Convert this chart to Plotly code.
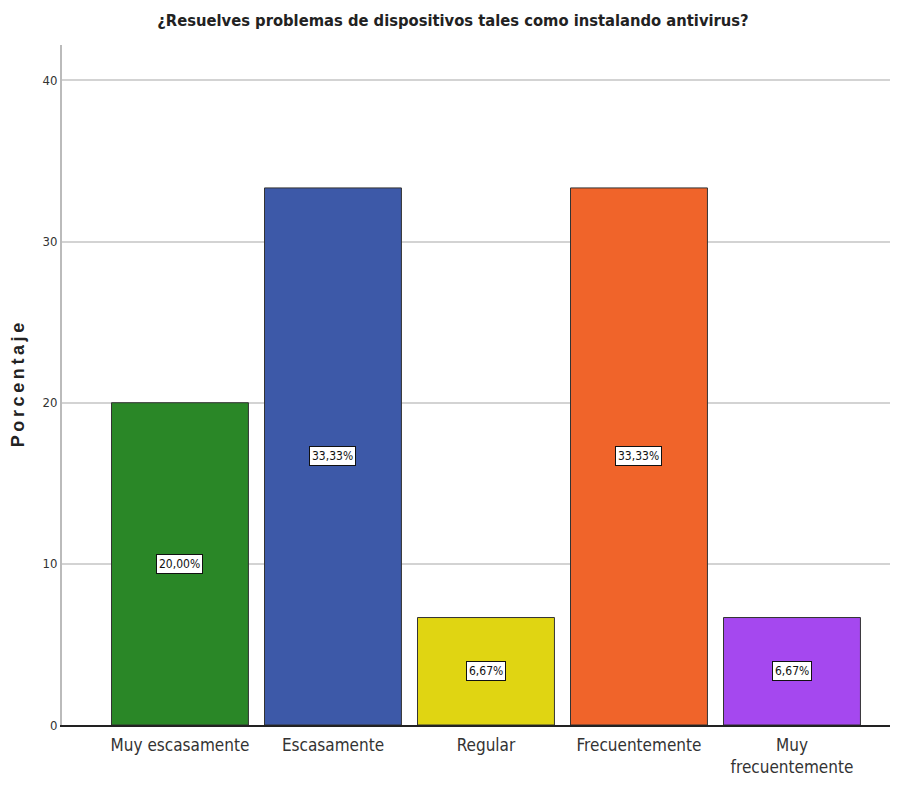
import plotly.graph_objects as go

categories = ["Muy escasamente", "Escasamente", "Regular", "Frecuentemente", "Muy<br>frecuentemente"]
values = [20.00, 33.33, 6.67, 33.33, 6.67]
labels = ["20,00%", "33,33%", "6,67%", "33,33%", "6,67%"]
colors = ["#2a8727", "#3d59a8", "#e0d512", "#f0642a", "#a548ef"]
yticks = [0, 10, 20, 30, 40]

NARROW = "Liberation Sans Narrow, Arial Narrow, DejaVu Sans Condensed, sans-serif"

sp = "\u2009"
ytitle = sp.join("Porcentaje")

fig = go.Figure()
fig.add_trace(go.Bar(
    x=list(range(len(categories))),
    y=values,
    marker=dict(color=colors, line=dict(color="#333333", width=1)),
    width=0.895,
    hoverinfo="skip",
))

for i, (v, t) in enumerate(zip(values, labels)):
    fig.add_annotation(
        x=i, y=v / 2, text=t, showarrow=False,
        font=dict(family=NARROW, size=12, color="#111111"),
        bgcolor="white", bordercolor="#111111", borderwidth=1, borderpad=2,
    )

fig.update_layout(
    width=890, height=788,
    margin=dict(l=54, r=0, t=37, b=71),
    paper_bgcolor="white", plot_bgcolor="white",
    showlegend=False,
    title=dict(
        text="<b>¿Resuelves problemas de dispositivos tales como instalando antivirus?</b>",
        x=0.5, xanchor="center", y=0.985, yanchor="middle",
        font=dict(family=NARROW, size=16.4, color="#222222"),
    ),
    xaxis=dict(
        tickmode="array", tickvals=list(range(len(categories))), ticktext=categories,
        range=[-0.771, 4.693],
        tickfont=dict(family=NARROW, size=17, color="#333333"),
        ticklabelstandoff=4,
        showline=True, linecolor="#222222", linewidth=1.5,
        showgrid=False, zeroline=False, ticks="",
    ),
    yaxis=dict(
        range=[0, 42.2],
        tickmode="array", tickvals=yticks, ticktext=[str(t) for t in yticks],
        tickfont=dict(family=NARROW, size=13, color="#333333"),
        showline=True, linecolor="#bbbbbb", linewidth=2,
        showgrid=True, gridcolor="#d3d3d3", gridwidth=2,
        zeroline=False, ticks="", ticklen=0,
        title=dict(text="<b>" + ytitle + "</b>", standoff=18,
                   font=dict(family="Liberation Sans, Arial, sans-serif", size=18, color="#222222")),
    ),
)

fig.write_html("out.html")
